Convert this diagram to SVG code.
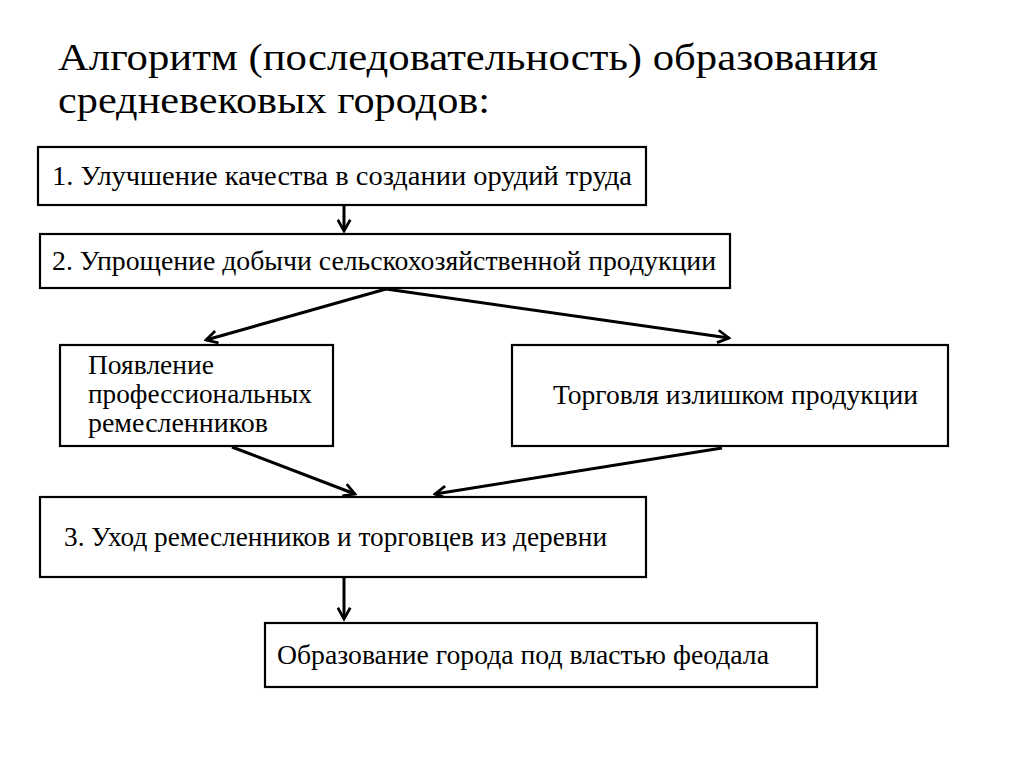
<svg xmlns="http://www.w3.org/2000/svg" width="1024" height="767" viewBox="0 0 1024 767">
<style>
.box{fill:#fff;stroke:#000;stroke-width:2.2}
.t{font-family:"Liberation Serif","DejaVu Serif",serif;font-size:27px;fill:#000}
.title{font-family:"Liberation Serif","DejaVu Serif",serif;font-size:38px;fill:#000}
.c{stroke:#000;stroke-width:3;fill:none;marker-end:url(#ah)}
</style>
<defs>
<marker id="ah" viewBox="0 0 12 12" refX="10" refY="6" markerWidth="5" markerHeight="5" orient="auto" markerUnits="strokeWidth">
<polyline points="1,1 10,6 1,11" fill="none" stroke="#000" stroke-width="2.2"/>
</marker>
</defs>
<rect width="1024" height="767" fill="#fff"/>
<g id="title">
<text class="title" x="58" y="70" textLength="820" lengthAdjust="spacingAndGlyphs">Алгоритм (последовательность) образования</text>
<text class="title" x="58" y="113" textLength="432" lengthAdjust="spacingAndGlyphs">средневековых городов:</text>
</g>
<g id="connectors">
<line class="c" x1="344" y1="205" x2="344" y2="231"/>
<line class="c" x1="386" y1="289" x2="206" y2="340"/>
<line class="c" x1="386" y1="289" x2="729" y2="338"/>
<line class="c" x1="232" y1="447" x2="355" y2="494"/>
<line class="c" x1="722" y1="448" x2="435" y2="494"/>
<line class="c" x1="344" y1="577" x2="344" y2="619"/>
</g>
<g id="n1">
<rect class="box" x="38" y="147" width="608" height="58"/>
<text class="t" x="52" y="185" textLength="580" lengthAdjust="spacingAndGlyphs">1. Улучшение качества в создании орудий труда</text>
</g>
<g id="n2">
<rect class="box" x="40" y="234" width="690" height="54"/>
<text class="t" x="52" y="270" textLength="664" lengthAdjust="spacingAndGlyphs">2. Упрощение добычи сельскохозяйственной продукции</text>
</g>
<g id="n3">
<rect class="box" x="60" y="345" width="273" height="101"/>
<text class="t" x="88" y="374" textLength="126" lengthAdjust="spacingAndGlyphs">Появление</text>
<text class="t" x="88" y="403" textLength="224" lengthAdjust="spacingAndGlyphs">профессиональных</text>
<text class="t" x="88" y="432" textLength="180" lengthAdjust="spacingAndGlyphs">ремесленников</text>
</g>
<g id="n4">
<rect class="box" x="512" y="345" width="436" height="101"/>
<text class="t" x="553" y="404" textLength="365" lengthAdjust="spacingAndGlyphs">Торговля излишком продукции</text>
</g>
<g id="n5">
<rect class="box" x="40" y="497" width="606" height="80"/>
<text class="t" x="64" y="546" textLength="543" lengthAdjust="spacingAndGlyphs">3. Уход ремесленников и торговцев из деревни</text>
</g>
<g id="n6">
<rect class="box" x="265" y="623" width="552" height="64"/>
<text class="t" x="277" y="664" textLength="492" lengthAdjust="spacingAndGlyphs">Образование города под властью феодала</text>
</g>
</svg>
